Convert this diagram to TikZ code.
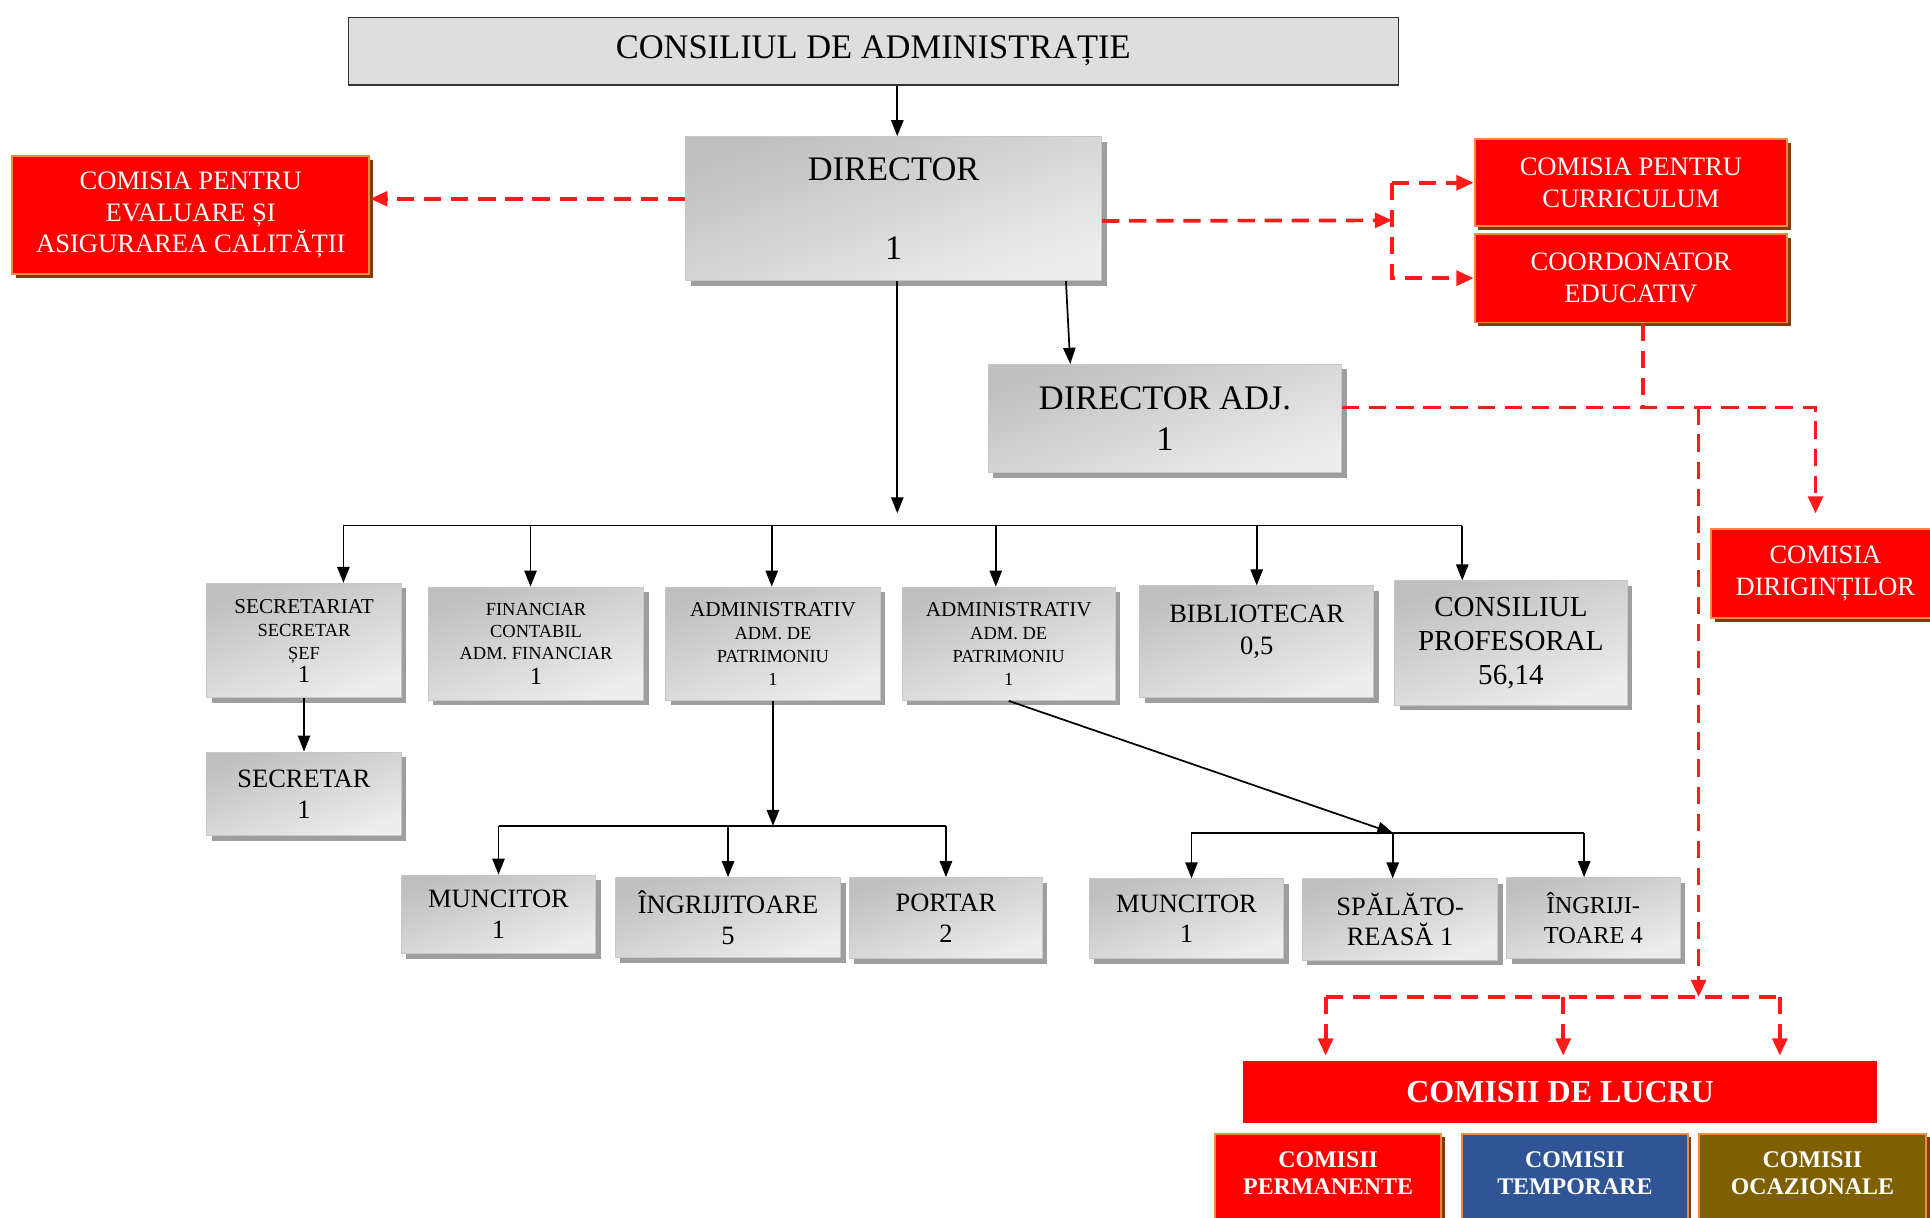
\documentclass[tikz,border=0pt]{standalone}
\usepackage{fontspec}
\setmainfont{Liberation Serif}
\usetikzlibrary{positioning, arrows.meta, shadows}

\definecolor{boxred}{HTML}{FF0000}
\definecolor{redline}{HTML}{F08A3E}
\definecolor{redshadow}{HTML}{843C0C}
\definecolor{boxblue}{HTML}{2F5597}
\definecolor{boxolive}{HTML}{7F6000}
\definecolor{dashred}{HTML}{FF1A1A}

\begin{document}
\begin{tikzpicture}[x=0.5pt, y=-0.5pt,
    topbox/.style={rectangle, draw=black!80, line width=0.5pt, fill=black!13,
                   align=center, inner sep=0pt},
    graybox/.style={rectangle, draw=black!22, line width=0.4pt,
                    top color=black!25, bottom color=black!7, shading angle=20,
                    drop shadow={shadow xshift=2pt, shadow yshift=-2pt, fill=black!38, opacity=1},
                    align=center, inner sep=0pt},
    redbox/.style={rectangle, draw=redline, line width=0.8pt, fill=boxred, text=white,
                   drop shadow={shadow xshift=1.5pt, shadow yshift=-1.5pt, fill=redshadow, opacity=1},
                   align=center, inner sep=0pt},
    arr/.style={-{Triangle[length=6.5pt, width=5pt]}, line width=0.7pt},
    dline/.style={draw=dashred, line width=1.5pt, dash pattern=on 7pt off 4pt},
    darr/.style={dline, -{Triangle[length=7pt, width=6pt]}}
]
    \useasboundingbox (0,0) rectangle (1568,989.5);

    % Top levels
    \node[topbox, minimum width=426.5pt, minimum height=27.5pt,
          font=\fontsize{14}{16.8}\selectfont] (cda) at (709.5,41.5) {CONSILIUL DE ADMINISTRAȚIE};
    \node[graybox, minimum width=169pt, minimum height=58.5pt,
          font=\fontsize{14}{16.8}\selectfont] (dir) at (726,169.5) {DIRECTOR\\[15pt]1};
    \node[graybox, minimum width=143.5pt, minimum height=44pt,
          font=\fontsize{14}{16.5}\selectfont] (diradj) at (946.5,340) {DIRECTOR ADJ.\\1};

    % Commissions (red)
    \node[redbox, minimum width=145pt, minimum height=48pt,
          font=\fontsize{10.8}{12.75}\selectfont] (ceac) at (155,175)
          {COMISIA PENTRU\\EVALUARE ȘI\\ASIGURAREA CALITĂȚII};
    \node[redbox, minimum width=127pt, minimum height=35.5pt,
          font=\fontsize{10.8}{13}\selectfont] (curr) at (1325,148.5) {COMISIA PENTRU\\CURRICULUM};
    \node[redbox, minimum width=127pt, minimum height=36pt,
          font=\fontsize{10.8}{13}\selectfont] (coord) at (1325,226) {COORDONATOR\\EDUCATIV};
    \node[redbox, minimum width=93pt, minimum height=36pt,
          font=\fontsize{10.75}{13}\selectfont] (dirig) at (1483,466) {COMISIA\\DIRIGINȚILOR};

    % Departments
    \node[graybox, minimum width=79pt, minimum height=46.5pt,
          font=\fontsize{7.5}{9.3}\selectfont] (secr) at (247,520.5)
          {{\fontsize{8.6}{9.3}\selectfont SECRETARIAT}\\SECRETAR\\ȘEF\\{\fontsize{10}{9.3}\selectfont 1}};
    \node[graybox, minimum width=87.5pt, minimum height=46pt,
          font=\fontsize{7.5}{9}\selectfont] (fin) at (435.5,523)
          {FINANCIAR\\CONTABIL\\ADM. FINANCIAR\\[1pt]{\fontsize{10}{9}\selectfont 1}};
    \node[graybox, minimum width=87pt, minimum height=46pt,
          font=\fontsize{7.5}{9.3}\selectfont] (adm1) at (628,523)
          {{\fontsize{8.6}{9.3}\selectfont ADMINISTRATIV}\\ADM. DE\\PATRIMONIU\\1};
    \node[graybox, minimum width=86.5pt, minimum height=46pt,
          font=\fontsize{7.5}{9.3}\selectfont] (adm2) at (819.5,523)
          {{\fontsize{8.6}{9.3}\selectfont ADMINISTRATIV}\\ADM. DE\\PATRIMONIU\\1};
    \node[graybox, minimum width=95pt, minimum height=45.5pt,
          font=\fontsize{10.75}{13}\selectfont] (bib) at (1021,521.5)
          {BIBLIOTECAR\\0,5\\[-3pt]\mbox{}};
    \node[graybox, minimum width=94.5pt, minimum height=50.5pt,
          font=\fontsize{11.8}{13.75}\selectfont] (cp) at (1227.5,522.5)
          {CONSILIUL\\PROFESORAL\\56,14};
    \node[graybox, minimum width=79pt, minimum height=34pt,
          font=\fontsize{10.75}{12.5}\selectfont] (secr2) at (247,645) {SECRETAR\\1};

    % Staff
    \node[graybox, minimum width=79pt, minimum height=32pt,
          font=\fontsize{10.75}{12.5}\selectfont] (munc1) at (405,743) {MUNCITOR\\1};
    \node[graybox, minimum width=91.5pt, minimum height=32.5pt,
          font=\fontsize{10.75}{12.5}\selectfont] (ingr5) at (591.5,745.5) {ÎNGRIJITOARE\\5};
    \node[graybox, minimum width=78.5pt, minimum height=33pt,
          font=\fontsize{10.75}{12.5}\selectfont] (portar) at (768.5,746) {PORTAR\\2};
    \node[graybox, minimum width=79pt, minimum height=32.5pt,
          font=\fontsize{10.75}{12.5}\selectfont] (munc2) at (964,746.5) {MUNCITOR\\1};
    \node[graybox, minimum width=79.5pt, minimum height=33pt,
          font=\fontsize{10.75}{12.5}\selectfont] (spal) at (1137.5,747) {SPĂLĂTO-\\REASĂ 1};
    \node[graybox, minimum width=70.5pt, minimum height=33pt,
          font=\fontsize{9.9}{12}\selectfont] (ingr4) at (1294.5,746) {ÎNGRIJI-\\TOARE 4};

    % Working commissions
    \node[rectangle, fill=boxred, text=white, minimum width=257.5pt, minimum height=25pt,
          font=\bfseries\fontsize{13}{15}\selectfont] (lucru) at (1267.5,887) {COMISII DE LUCRU};
    \node[redbox, minimum width=92pt, minimum height=37pt,
          font=\bfseries\fontsize{9.7}{11}\selectfont] (perm) at (1079,958)
          {COMISII\\PERMANENTE\\[-6pt]\mbox{}};
    \node[redbox, fill=boxblue, minimum width=91.5pt, minimum height=37pt,
          font=\bfseries\fontsize{9.7}{11}\selectfont] (temp) at (1279.5,958)
          {COMISII\\TEMPORARE\\[-6pt]\mbox{}};
    \node[redbox, fill=boxolive, minimum width=92.5pt, minimum height=37pt,
          font=\bfseries\fontsize{9.7}{11}\selectfont] (ocaz) at (1472.5,958)
          {COMISII\\OCAZIONALE\\[-6pt]\mbox{}};

    % Junctions
    \coordinate (hub) at (729,417);
    \coordinate (bus) at (729,427);
    \coordinate (bus2) at (628,671);
    \coordinate (bus3) at (1132,677);
    \coordinate (cbr) at (1131,179);
    \coordinate (rj) at (1335,331);
    \coordinate (bus4) at (1380,810);

    % Black arrows
    \draw[arr] ([xshift=1.5pt]dir.north |- cda.south) -- ([xshift=1.5pt]dir.north);
    \draw[arr] ([xshift=1.5pt]dir.south) -- (hub);
    \draw[arr] ([xshift=70pt]dir.south) -- ([xshift=-38.5pt]diradj.north);
    \draw[line width=0.7pt] ([xshift=16pt]secr.north |- bus) -- ([xshift=-19.75pt]cp.north |- bus);
    \foreach \n/\d in {secr/16, fin/-2.25, adm1/-0.5, adm2/-5.25, bib/0, cp/-19.75}
        \draw[arr] ([xshift=\d pt]\n.north |- bus) -- ([xshift=\d pt]\n.north);
    \draw[arr] (secr.south) -- (secr2.north);

    \draw[arr] (adm1.south) -- (bus2);
    \draw[line width=0.7pt] (munc1.north |- bus2) -- (portar.north |- bus2);
    \foreach \n in {munc1, ingr5, portar}
        \draw[arr] (\n.north |- bus2) -- (\n.north);

    \draw[arr] (adm2.south) -- (bus3);
    \draw[line width=0.7pt] ([xshift=2pt]munc2.north |- bus3) -- ([xshift=-3.75pt]ingr4.north |- bus3);
    \foreach \n/\d in {munc2/2, spal/-3, ingr4/-3.75}
        \draw[arr] ([xshift=\d pt]\n.north |- bus3) -- ([xshift=\d pt]\n.north);

    % Red dashed links
    \draw[darr] ([yshift=4pt]dir.west) -- ([yshift=4pt]dir.west -| ceac.east);
    \draw[darr] ([yshift=-5pt]dir.east) -- (cbr);
    \draw[darr] (curr.west -| cbr) -- (curr.west);
    \draw[darr] (curr.west -| cbr) -- (coord.west -| cbr) -- (coord.west);
    \draw[dline] ([xshift=5pt]coord.south) -- (rj);
    \draw[darr] ([yshift=4.5pt]diradj.east) -| ([xshift=-4pt, yshift=6pt]dirig.north);
    \draw[darr] (rj -| bus4) -- (bus4);
    \draw[dline] ([xshift=-95.25pt]lucru.north |- bus4) -- ([xshift=89.25pt]lucru.north |- bus4);
    \foreach \d in {-95.25, 1.25, 89.25}
        \draw[darr] ([xshift=\d pt]lucru.north |- bus4) -- ([xshift=\d pt, yshift=2pt]lucru.north);

\end{tikzpicture}
\end{document}
